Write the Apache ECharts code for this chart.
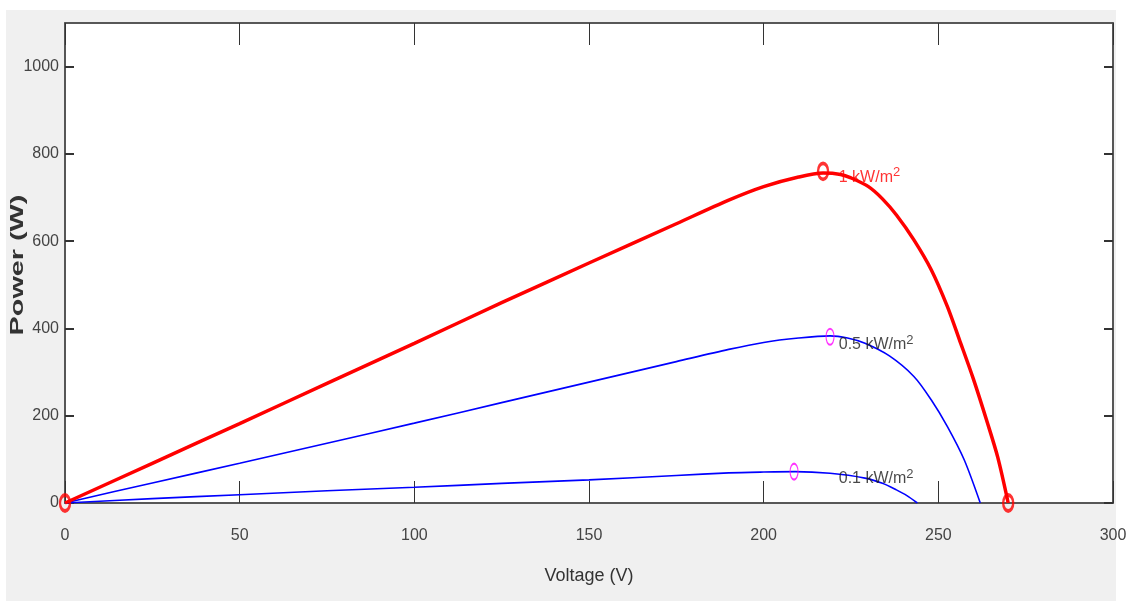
<!DOCTYPE html>
<html><head><meta charset="utf-8">
<script src="https://cdn.jsdelivr.net/npm/echarts@6/dist/echarts.min.js"></script>
<style>
html,body{margin:0;padding:0;background:#fff;}
#bg{position:absolute;left:6px;top:10px;width:1110px;height:591px;background:#f0f0f0;}
#c{position:absolute;left:0;top:0;width:1133px;height:601px;}
</style></head><body>
<div id="bg"></div>
<div id="c"></div>
<script>
// Data (Voltage V, Power W)
const curve1kW = [[0,0],[25,91],[50,182],[75,274],[100,366],[125,459],[150,550],[175,640],[190,694],[200,725],[210,747],[217,756],[222,753],[225,745],[230,725],[234,697],[238,660],[243,603],[248,534],[252.6,450],[256,375],[260,285],[264,185],[267,105],[270,0]];
const curve05kW = [[0,0],[25,46],[50,91],[75,137],[100,183],[125,230],[150,277],[175,324],[190,352],[200,368],[210,378],[219,383],[224,378],[229,366],[236,337],[243,290],[248,236],[252.6,175],[257.4,99],[262,0]];
const curve01kW = [[0,0],[25,10],[50,19],[75,28],[100,36],[125,45],[150,53],[175,63],[190,69],[200,71],[209,72],[219,68],[229,57],[234,45],[238,30],[241,17],[244,0]];
const redMarkers = [[0,0],[217,760],[270,0]];
const magentaMarkers = [[219,381],[208.7,72]];
const curveLabels = [
  {value:[221.5,745], text:'1 kW/m', color:'#ff0000'},
  {value:[221.5,362], text:'0.5 kW/m', color:'#1a1a1a'},
  {value:[221.5,55],  text:'0.1 kW/m', color:'#1a1a1a'}
];
const xTicks = [0,50,100,150,200,250,300];
const yTicks = [0,200,400,600,800,1000];

const FONT = '"Liberation Sans",Arial,sans-serif';
const axisCol = '#4d4d4d';
const chart = echarts.init(document.getElementById('c'), null, {renderer:'canvas'});
chart.setOption({
  backgroundColor:'transparent',
  animation:false,
  grid:{left:65, top:23, right:20, bottom:98, show:true, backgroundColor:'#ffffff', borderColor:axisCol, borderWidth:1.5},
  xAxis:[
    {type:'value', min:0, max:300, interval:50, position:'bottom',
     name:'Voltage (V)', nameLocation:'middle', nameGap:64,
     nameTextStyle:{fontFamily:FONT, fontSize:18, color:'#333'},
     axisLine:{show:true, onZero:false, lineStyle:{color:axisCol, width:1.5}},
     axisTick:{show:true, inside:true, length:22, lineStyle:{color:'#333', width:1}, customValues:xTicks},
     axisLabel:{fontFamily:FONT, fontSize:16, color:'#444', margin:25, customValues:xTicks, formatter:v=>String(v)},
     splitLine:{show:false}},
    {type:'value', min:0, max:300, interval:50, position:'top',
     axisLine:{show:true, onZero:false, lineStyle:{color:axisCol, width:1.5}},
     axisTick:{show:true, inside:true, length:22, lineStyle:{color:'#333', width:1}, customValues:xTicks},
     axisLabel:{show:false}, splitLine:{show:false}}
  ],
  yAxis:[
    {type:'value', min:0, max:1100, interval:200, position:'left',
     axisLine:{show:true, onZero:false, lineStyle:{color:axisCol, width:1.5}},
     axisTick:{show:true, inside:true, length:9, lineStyle:{color:'#333', width:2}, customValues:yTicks},
     axisLabel:{fontFamily:FONT, fontSize:16, color:'#444', margin:6, padding:[6,0,0,0], customValues:yTicks, formatter:v=>String(v)},
     splitLine:{show:false}},
    {type:'value', min:0, max:1100, interval:200, position:'right',
     axisLine:{show:true, onZero:false, lineStyle:{color:axisCol, width:1.5}},
     axisTick:{show:true, inside:true, length:9, lineStyle:{color:'#333', width:2}, customValues:yTicks},
     axisLabel:{show:false}, splitLine:{show:false}}
  ],
  graphic:[
    {type:'text', x:18, y:265, rotation:Math.PI/2, scaleX:1.6, scaleY:1,
     style:{text:'Power (W)', fontFamily:FONT, fontWeight:'bold', fontSize:18, fill:'#333', align:'center', verticalAlign:'middle'}, z:100}
  ],
  series:[
    {type:'line', name:'0.1 kW/m2', data:curve01kW, smooth:0.3, showSymbol:false, lineStyle:{color:'#0000ff', width:1.6}, z:3},
    {type:'line', name:'0.5 kW/m2', data:curve05kW, smooth:0.3, showSymbol:false, lineStyle:{color:'#0000ff', width:1.6}, z:3},
    {type:'line', name:'1 kW/m2', data:curve1kW, smooth:0.3, showSymbol:false, lineStyle:{color:'#ff0000', width:3.5}, z:4},
    {type:'scatter', data:magentaMarkers, symbol:'circle', symbolSize:[8,16], itemStyle:{color:'transparent', borderColor:'#ff00ff', borderWidth:1.5}, z:5},
    {type:'scatter', data:redMarkers, symbol:'circle', symbolSize:[10,16], itemStyle:{color:'transparent', borderColor:'#ff0000', borderWidth:3}, z:6},
    {type:'scatter', symbolSize:0, silent:true, z:7,
     data:curveLabels.map(d=>({value:d.value, text:d.text,
       label:{rich:{t:{color:d.color, fontFamily:FONT, fontSize:16}, s:{color:d.color, fontFamily:FONT, fontSize:13, verticalAlign:'top', padding:[0,0,10,0]}}}})),
     label:{show:true, position:'right', distance:0,
       formatter:p=>'{t|'+p.data.text+'}{s|2}'},
     itemStyle:{color:'transparent'}}
  ]
});
</script>
</body></html>
